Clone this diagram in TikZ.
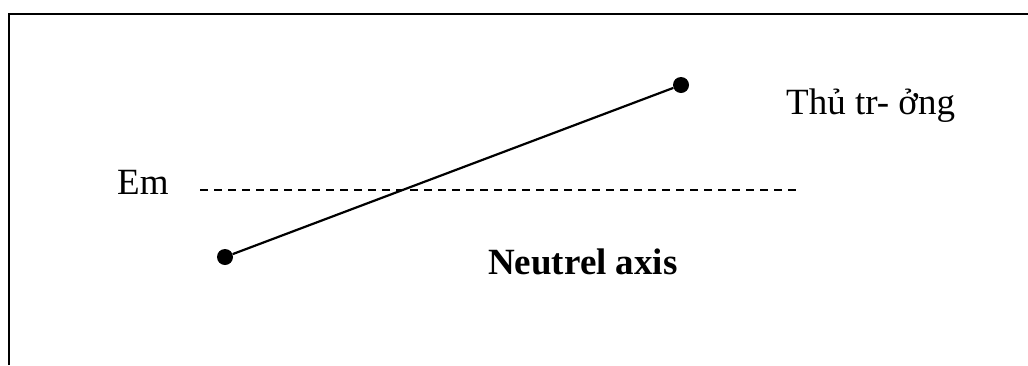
\documentclass[tikz,border=0pt]{standalone}
\usepackage{fontspec}
\setmainfont{Liberation Serif}
\tikzset{
    dot/.style={circle,fill=black,inner sep=0pt,minimum size=16pt},
    lbl/.style={anchor=base west,inner sep=0pt,font=\fontsize{37}{42}\selectfont},
    axisline/.style={line width=1.5pt,dash pattern=on 8pt off 6pt}
}

\begin{document}
\begin{tikzpicture}[x=1pt,y=-1pt]
    \useasboundingbox (0,0) rectangle (1028,365);
    % frame
    \draw[line width=2.5pt] (9,365) -- (9,14) -- (1028,14);
    % neutral axis
    \coordinate (axL) at (200,190);
    \coordinate (axR) at (796,190);
    \draw[axisline] (axL) -- (axR);
    % end points and line
    \node[dot] (p1) at (225,257) {};
    \node[dot] (p2) at (681,85) {};
    \draw[line width=2.2pt] (p1) -- (p2);
    % labels
    \node[lbl] (em) at (117,194) {Em};
    \node[lbl] (tt) at (786,114) {Thủ tr- ởng};
    \node[lbl,font=\fontsize{37}{42}\selectfont\bfseries] (na) at (488,274) {Neutrel axis};
\end{tikzpicture}
\end{document}
